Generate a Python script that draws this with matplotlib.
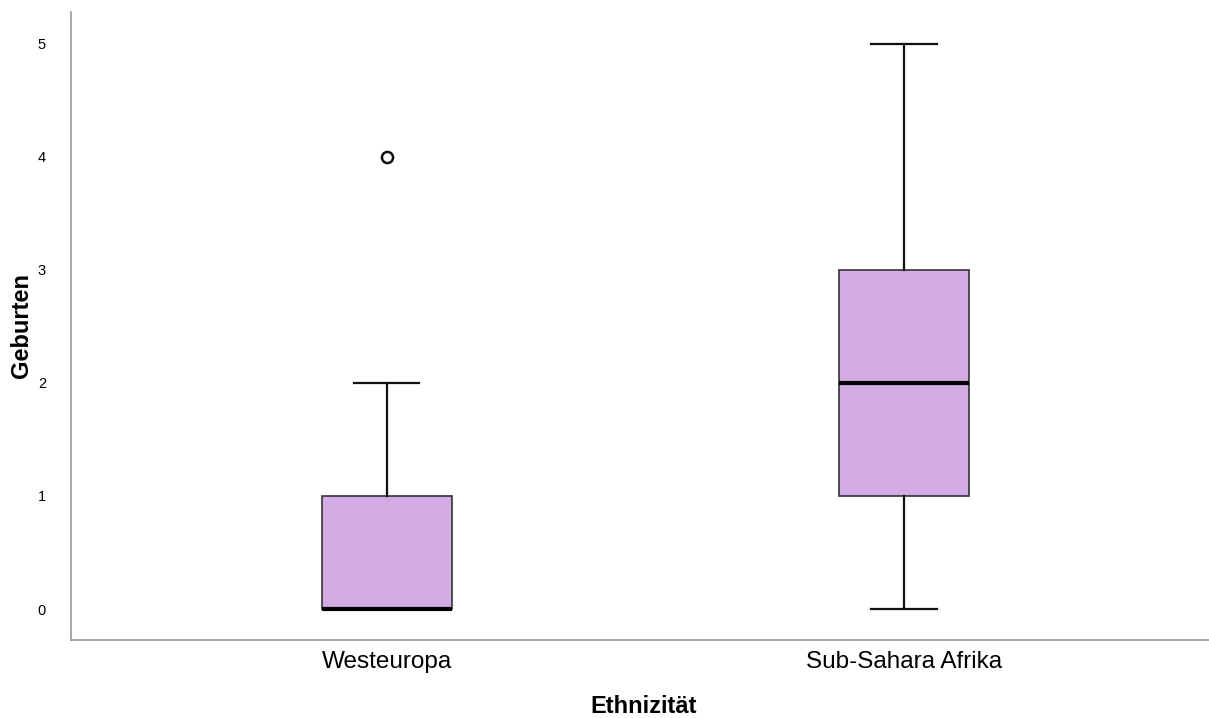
import matplotlib.pyplot as plt

plt.rcParams['font.family'] = ['Liberation Sans', 'DejaVu Sans']

# Kennwerte pro Gruppe (Minimum, Q1, Median, Q3, Maximum, Ausreißer)
groups = ["Westeuropa", "Sub-Sahara Afrika"]
whisker_low = [0, 0]
q1 = [0, 1]
median = [0, 2]
q3 = [1, 3]
whisker_high = [2, 5]
outliers = [[4], []]

stats = []
for i, name in enumerate(groups):
    stats.append(dict(label=name, whislo=whisker_low[i], q1=q1[i], med=median[i],
                      q3=q3[i], whishi=whisker_high[i], fliers=outliers[i]))

fig = plt.figure(figsize=(12.09, 7.18), dpi=100)
ax = fig.add_axes([0.0587, 0.1086, 0.9413, 0.875])

ax.bxp(stats, positions=[0, 1], widths=0.25, patch_artist=True,
       showfliers=True,
       boxprops=dict(facecolor="#d2aae4", edgecolor="#333333", linewidth=1.2),
       medianprops=dict(color="black", linewidth=3),
       whiskerprops=dict(color="#111111", linewidth=1.6),
       capprops=dict(color="#111111", linewidth=1.6),
       capwidths=0.126,
       flierprops=dict(marker="o", markersize=8, markerfacecolor="white",
                       markeredgecolor="#111111", markeredgewidth=1.8))

ax.set_xlim(-0.611, 1.59)
ax.set_ylim(-0.274, 5.283)
ax.set_yticks(range(6))
ax.tick_params(axis="both", length=0)
ax.tick_params(axis="y", labelsize=10.5, pad=18)
ax.tick_params(axis="x", labelsize=17.5, pad=8)

for side in ["top", "right"]:
    ax.spines[side].set_visible(False)
for side in ["left", "bottom"]:
    ax.spines[side].set_color("#999999")
    ax.spines[side].set_linewidth(1.2)

ax.set_xlabel("Ethnizität", fontsize=17, fontweight="bold")
ax.set_ylabel("Geburten", fontsize=17, fontweight="bold")
ax.xaxis.set_label_coords(0.503, -0.088)
ax.yaxis.set_label_coords(-0.033, 0.5)

fig.savefig("out.png", dpi=100)
